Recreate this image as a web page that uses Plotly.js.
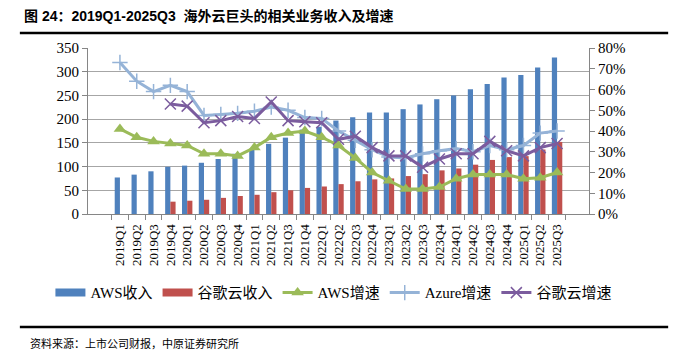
<!DOCTYPE html>
<html>
<head>
<meta charset="utf-8">
<script src="https://cdn.plot.ly/plotly-3.0.1.min.js"></script>
<style>
html,body{margin:0;padding:0;background:#fff;}
#chart{width:678px;height:353px;}
</style>
</head>
<body>
<div id="chart"></div>
<script>
const quarters = ["2019Q1","2019Q2","2019Q3","2019Q4","2020Q1","2020Q2","2020Q3","2020Q4",
  "2021Q1","2021Q2","2021Q3","2021Q4","2022Q1","2022Q2","2022Q3","2022Q4",
  "2023Q1","2023Q2","2023Q3","2023Q4","2024Q1","2024Q2","2024Q3","2024Q4",
  "2025Q1","2025Q2","2025Q3"];
const awsRevenue = [77,83,90,99.5,102,108,116,127,135,148,161,178,184,197,204,214,
  214,221,231,242,250,263,274,288,293,309,330];
const googleRevenue = [null,null,null,26,28,30,34,38,40.5,46,50,55,58,63,69,73,
  75,80,84,92,96,104,114,120,122,136,152];
const awsGrowth = [41,37,35,34,33,29,29,28,32,37,39,40,37,33,27,20,
  16,12,12,13,17,19,19,19,17,17.5,20];
const azureGrowth = [73,64,59,62,59,47.5,48,48.5,49.5,51.5,50,46.5,46,40,35.5,31,
  27.5,27,29,30.5,31.5,30,33,31,33,39,40];
const googleGrowth = [null,null,null,53,52,44,45,47,46,54,45,44.5,44,36,37.5,32,
  28,28,22.5,26.5,29,29,35,30.5,28,32,34];

const pct = a => a.map(v => v === null ? null : v / 100);

const serif = "Liberation Serif, Times New Roman, Noto Sans CJK SC, serif";
const cBlue = '#4F81BD', cRed = '#C0504D', cGreen = '#9BBB59', cAzure = '#95B3D7', cPurple = '#7B5C9E';

const traces = [
  {type:'bar', name:'AWS收入', x:quarters, y:awsRevenue, marker:{color:cBlue}, yaxis:'y', showlegend:false},
  {type:'bar', name:'谷歌云收入', x:quarters, y:googleRevenue, marker:{color:cRed}, yaxis:'y', showlegend:false},
  // legend swatches for the bar series (wide rectangles as in the reference)
  {type:'scatter', mode:'lines', name:'AWS收入', x:[quarters[0]], y:[null], yaxis:'y',
   line:{color:cBlue, width:8}, legendrank:1, hoverinfo:'skip'},
  {type:'scatter', mode:'lines', name:'谷歌云收入', x:[quarters[0]], y:[null], yaxis:'y',
   line:{color:cRed, width:8}, legendrank:2, hoverinfo:'skip'},
  {type:'scatter', mode:'lines+markers', name:'AWS增速', x:quarters, y:pct(awsGrowth), yaxis:'y2', legendrank:3,
   line:{color:cGreen, width:3}, marker:{symbol:'triangle-up', size:11, color:cGreen}},
  {type:'scatter', mode:'lines+markers', name:'Azure增速', x:quarters, y:pct(azureGrowth), yaxis:'y2', legendrank:4,
   line:{color:cAzure, width:3}, marker:{symbol:'cross-thin', size:11, line:{color:cAzure, width:1.5}}},
  {type:'scatter', mode:'lines+markers', name:'谷歌云增速', x:quarters, y:pct(googleGrowth), yaxis:'y2', legendrank:5,
   line:{color:cPurple, width:3}, marker:{symbol:'x-thin', size:11, line:{color:cPurple, width:1.5}},
   connectgaps:false}
];

const layout = {
  width:678, height:353,
  margin:{l:88, r:89, t:48, b:139, pad:0},
  paper_bgcolor:'#fff', plot_bgcolor:'#fff',
  barmode:'group', bargap:0.38, bargroupgap:0,
  showlegend:true,
  legend:{orientation:'h', x:-0.075, xanchor:'left', y:-0.475, yanchor:'middle',
    font:{family:serif, size:15, color:'#000'}, itemwidth:30, tracegroupgap:0, traceorder:'normal'},
  xaxis:{type:'category', tickangle:-90, tickfont:{family:serif, size:13, color:'#000'},
    showline:true, linecolor:'#868686', linewidth:1, ticks:'outside', ticklen:5, tickcolor:'#868686',
    tickson:'boundaries', ticklabelstandoff:4, showgrid:false, zeroline:false},
  yaxis:{range:[0,350], dtick:50, tick0:0, showgrid:true, gridcolor:'#A6A6A6', gridwidth:1,
    showline:true, linecolor:'#868686', ticks:'outside', ticklen:5, tickcolor:'#868686',
    tickfont:{family:serif, size:15, color:'#000'}, zeroline:false},
  yaxis2:{range:[0,0.8], dtick:0.1, tick0:0, tickformat:'.0%', overlaying:'y', side:'right',
    showgrid:false, showline:true, linecolor:'#868686', ticks:'outside', ticklen:5, tickcolor:'#868686',
    tickfont:{family:serif, size:15, color:'#000'}, zeroline:false},
  shapes:[
    {type:'line', xref:'paper', yref:'paper', x0:-0.136, x1:1.158, y0:1.09, y1:1.09,
     line:{color:'#000', width:2.5}},
    {type:'line', xref:'paper', yref:'paper', x0:-0.136, x1:1.158, y0:-0.681, y1:-0.681,
     line:{color:'#000', width:2.5}}
  ],
  annotations:[
    {xref:'paper', yref:'paper', x:-0.132, y:1.193, xanchor:'left', yanchor:'middle', showarrow:false,
     text:'<b>图 24：2019Q1-2025Q3  海外云巨头的相关业务收入及增速</b>',
     font:{family:'Liberation Sans, Arial, Noto Sans CJK SC, sans-serif', size:14, color:'#000'}},
    {xref:'paper', yref:'paper', x:-0.12, y:-0.777, xanchor:'left', yanchor:'middle', showarrow:false,
     text:'资料来源：上市公司财报，中原证券研究所',
     font:{family:'Noto Sans CJK SC, sans-serif', size:11, color:'#000'}}
  ]
};

Plotly.newPlot('chart', traces, layout, {displayModeBar:false, staticPlot:true});
</script>
</body>
</html>
